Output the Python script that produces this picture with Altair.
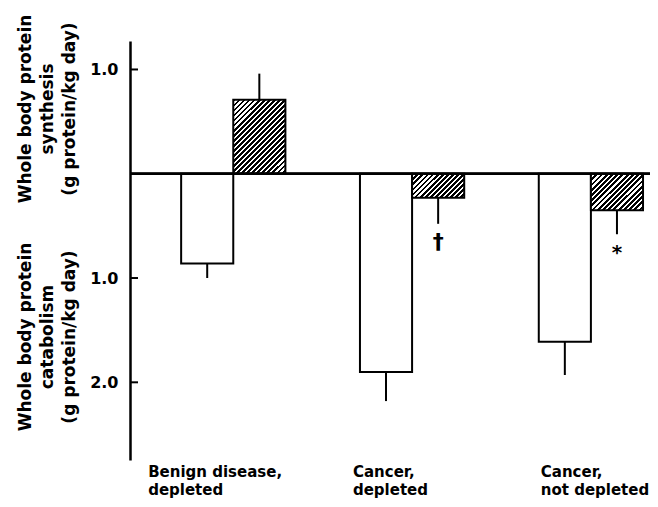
import math
import altair as alt
import pandas as pd

# ---------------- data ----------------
groups = ["Benign disease, depleted", "Cancer, depleted", "Cancer, not depleted"]
group_labels = ["Benign disease,\ndepleted", "Cancer,\ndepleted", "Cancer,\nnot depleted"]
series = ["catabolism", "synthesis"]
# downward = catabolism (negative), upward = synthesis (positive)
catabolism = [-0.86, -1.90, -1.61]
catabolism_err = [-1.00, -2.18, -1.93]
synthesis = [0.71, -0.23, -0.35]
synthesis_err = [0.96, -0.48, -0.58]
sig_groups = ["Cancer, depleted", "Cancer, not depleted"]
sig_symbols = ["\u2020", "*"]
sig_pos = [-0.65, -0.72]
tick_values = [1.0, -1.0, -2.0]
y_domain = [-2.745, 1.273]
title_top = "Whole body protein\nsynthesis\n(g protein/kg day)"
title_bottom = "Whole body protein\ncatabolism\n(g protein/kg day)"

# ---------------- layout / style ----------------
W, H = 520, 419
FONT = "DejaVu Sans"
BAR_W = 52.0
PPU = H / (y_domain[1] - y_domain[0])

rows = []
for g, c, ce, s, se in zip(groups, catabolism, catabolism_err, synthesis, synthesis_err):
    rows.append({"group": g, "series": "catabolism", "value": c, "err": ce})
    rows.append({"group": g, "series": "synthesis", "value": s, "err": se})
df = pd.DataFrame(rows)

yscale = alt.Scale(domain=y_domain, nice=False, zero=False)
yaxis = alt.Axis(
    values=tick_values, labelExpr="format(abs(datum.value), '.1f')",
    tickSize=0, grid=False, title=None, domain=True, domainColor="black", domainWidth=2.5,
    labelFont=FONT, labelFontSize=16, labelFontWeight="bold", labelColor="black",
    labelPadding=12,
)
xscale = alt.Scale(domain=groups, paddingInner=0.417, paddingOuter=0.1625, align=0.88)
oscale = alt.Scale(domain=series, paddingInner=0, paddingOuter=0)
X = alt.X("group:N", scale=xscale, axis=None)
XO = alt.XOffset("series:N", scale=oscale)


def Yq(field):
    return alt.Y(field, scale=yscale, axis=yaxis)


def hatch(w, h, period=3.6, dark=0.55):
    k = (w + h) / (w * w + h * h)
    n = max(1, round((w + h) / math.sqrt(2) / period))
    stops = []
    for i in range(n):
        a, b, c = i / n, (i + dark) / n, (i + 1) / n
        stops += [
            alt.GradientStop(offset=a, color="black"),
            alt.GradientStop(offset=b, color="black"),
            alt.GradientStop(offset=b, color="white"),
            alt.GradientStop(offset=c, color="white"),
        ]
    return alt.LinearGradient(gradient="linear", stops=stops, x1=0, y1=0, x2=k * w, y2=k * h)


layers = []

# white bars (catabolism)
layers.append(
    alt.Chart(df).transform_filter(alt.datum.series == "catabolism").mark_bar(
        fill="white", stroke="black", strokeWidth=2
    ).encode(x=X, xOffset=XO, y=Yq("value:Q"), y2=alt.Y2Datum(0))
)

# hatched bars, one per group (gradient stripes fitted to each bar's shape)
for g, s in zip(groups, synthesis):
    h = abs(s) * PPU
    layers.append(
        alt.Chart(df).transform_filter(
            (alt.datum.series == "synthesis") & (alt.datum.group == g)
        ).mark_bar(fill=hatch(BAR_W, h), stroke="black", strokeWidth=2).encode(
            x=X, xOffset=XO, y=Yq("value:Q"), y2=alt.Y2Datum(0)
        )
    )

# zero line
layers.append(
    alt.Chart(df).mark_rule(color="black", strokeWidth=2).encode(
        y=alt.YDatum(0, scale=yscale, axis=yaxis), x=alt.value(0), x2=alt.value(W)
    )
)

# error bars
layers.append(
    alt.Chart(df).mark_rule(color="black", strokeWidth=2).encode(
        x=X, xOffset=XO, y=Yq("value:Q"), y2="err:Q"
    )
)

# inward ticks
layers.append(
    alt.Chart(pd.DataFrame({"t": tick_values})).mark_rule(color="black", strokeWidth=2).encode(
        y=Yq("t:Q"), x=alt.value(0), x2=alt.value(8)
    )
)

# significance symbols
sig_df = pd.DataFrame({"group": sig_groups, "series": "synthesis", "pos": sig_pos, "sym": sig_symbols})
for sym, size, dy in zip(sig_symbols, [22, 20], [0, 4]):
    layers.append(
        alt.Chart(sig_df).transform_filter(alt.datum.sym == sym).mark_text(
            font=FONT, fontSize=size, fontWeight="bold", color="black", baseline="middle", dy=dy
        ).encode(x=X, xOffset=XO, y=Yq("pos:Q"), text="sym:N")
    )

# y titles
for t, yv in zip([title_top, title_bottom], [68, 296]):
    layers.append(
        alt.Chart(pd.DataFrame({"t": [t]})).mark_text(
            font=FONT, fontSize=17, fontWeight="bold", angle=270, lineBreak="\n",
            lineHeight=22, align="center", baseline="middle", color="black"
        ).encode(text="t:N", x=alt.value(-104), y=alt.value(yv))
    )

# category labels
lab_df = pd.DataFrame({"group": groups, "label": group_labels})
for g, dx in zip(groups, [-33, -7, 2]):
    layers.append(
        alt.Chart(lab_df).transform_filter(alt.datum.group == g).mark_text(
            font=FONT, fontSize=15, fontWeight="bold", align="left", baseline="alphabetic",
            lineBreak="\n", lineHeight=18, color="black", dx=dx
        ).encode(x=alt.X("group:N", scale=xscale, axis=None, bandPosition=0),
                 y=alt.value(436), text="label:N")
    )

chart = alt.layer(*layers).properties(
    width=W, height=H,
    padding={"left": 122, "top": 33, "right": 0, "bottom": 39},
    autosize=alt.AutoSizeParams(type="none"),
).configure_view(stroke=None)

chart.save("out.html", embed_options={"renderer": "svg", "actions": False})
